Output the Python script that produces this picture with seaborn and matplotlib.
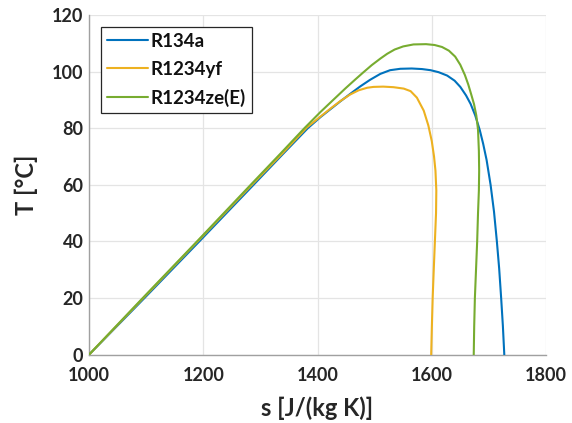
import numpy as np
import pandas as pd
import matplotlib
matplotlib.use("Agg")
import matplotlib.pyplot as plt
import seaborn as sns

# ---- data (s in J/(kg K), T in °C) ----
r134a_s = [1000, 1097, 1193, 1288, 1340, 1383, 1405, 1425, 1440, 1457, 1475, 1492, 1510, 1527,
           1545, 1565, 1583, 1598, 1612, 1627, 1640, 1650, 1660, 1668, 1676, 1684, 1690, 1696,
           1703, 1709, 1714, 1718, 1721.5, 1724.5, 1727]
r134a_T = [0, 20, 40, 60, 71, 80, 83.9, 87.1, 89.5, 92.1, 94.8, 97.1, 99.2, 100.5,
           101.0, 101.1, 100.9, 100.5, 99.8, 98.6, 96.8, 94.6, 91.6, 88.6, 84.6, 79.4, 74.5, 68.8,
           60, 50.5, 40, 30.5, 20, 10.2, 0]

r1234yf_s = [1000, 1095, 1190, 1285, 1338, 1381, 1405, 1425, 1440, 1457, 1472, 1487, 1498, 1515,
             1533, 1551, 1563, 1574, 1586, 1594, 1600, 1604, 1606.5, 1608, 1607.5, 1605.5, 1603.5,
             1601.6, 1600.2, 1599]
r1234yf_T = [0, 20, 40, 60, 71, 80.2, 84.1, 87.3, 89.6, 91.9, 93.4, 94.3, 94.6, 94.7,
             94.5, 94.0, 93.1, 90.8, 86.2, 81.0, 75.5, 70.0, 65.0, 58.0, 50.0, 40, 30, 20, 10, 0]

r1234ze_s = [1000, 1094, 1189, 1283, 1335, 1377, 1405, 1428, 1449, 1466, 1480, 1495, 1510, 1522,
             1535, 1550, 1568, 1590, 1605, 1618, 1630, 1641, 1650, 1658, 1664, 1669, 1674, 1678,
             1681, 1682.5, 1683, 1682.5, 1681, 1679.5, 1677.5, 1675.5, 1674.3, 1673.5]
r1234ze_T = [0, 20, 40, 60, 71, 80, 85.7, 90.1, 94.1, 97.2, 99.7, 102.3, 104.6, 106.3,
             107.8, 108.9, 109.6, 109.7, 109.4, 108.7, 107.4, 105.3, 102.4, 98.8, 95.4, 92.0, 88.5, 84.5,
             79.5, 72.0, 65.0, 58.0, 50, 40, 30, 20, 10, 0]

fluids = ["R134a", "R1234yf", "R1234ze(E)"]
colors = ["#0072BD", "#EDB120", "#77AC30"]

x_ticks = [1000, 1200, 1400, 1600, 1800]
y_ticks = [0, 20, 40, 60, 80, 100, 120]

frames = []
for name, s, T in zip(fluids, [r134a_s, r1234yf_s, r1234ze_s], [r134a_T, r1234yf_T, r1234ze_T]):
    frames.append(pd.DataFrame({"s": s, "T": T, "fluid": name}))
df = pd.concat(frames, ignore_index=True)

sns.set_theme(style="white")
plt.rcParams["font.family"] = ["Lato", "DejaVu Sans"]
plt.rcParams["font.weight"] = "bold"

fig = plt.figure(figsize=(5.72, 4.23), dpi=100)
ax = fig.add_axes([89 / 572, 1 - 354.7 / 423, (546 - 89) / 572, (354.7 - 15) / 423])

sns.lineplot(data=df, x="s", y="T", hue="fluid", palette=colors, sort=False,
             estimator=None, linewidth=1.5, ax=ax, legend=True, zorder=3)

ax.set_xlim(1000, 1800)
ax.set_ylim(0, 120)
ax.set_xticks(x_ticks)
ax.set_yticks(y_ticks)
ax.grid(True, color="#e4e4e4", linewidth=0.9, zorder=0)
ax.set_axisbelow(True)

for side in ["top", "right"]:
    ax.spines[side].set_visible(False)
for side in ["left", "bottom"]:
    ax.spines[side].set_color("#a0a0a0")
    ax.spines[side].set_linewidth(1.0)

ax.tick_params(axis="both", direction="in", length=4, width=0.9, color="#707070",
               labelsize=13, labelcolor="#262626")
ax.tick_params(axis="x", pad=9)
ax.tick_params(axis="y", pad=4)
for lab in ax.get_xticklabels() + ax.get_yticklabels():
    lab.set_fontweight("bold")

ax.set_xlabel("s [J/(kg K)]", fontsize=17, fontweight="bold", color="#262626", labelpad=9)
ax.set_ylabel("T [°C]", fontsize=17, fontweight="bold", color="#262626", labelpad=10)

leg = ax.legend(loc="upper left", bbox_to_anchor=((100.7 - 89) / 457, 1 - (26.7 - 15) / 339.7),
                frameon=True, fancybox=False, edgecolor="#262626", framealpha=1,
                prop={"weight": "bold", "size": 13.5}, handlelength=2.2, handletextpad=0.15,
                labelspacing=0.58, borderpad=0.32, borderaxespad=0)
leg.get_frame().set_linewidth(0.9)
for t in leg.get_texts():
    t.set_color("#111111")

fig.savefig("out.png", dpi=100)
